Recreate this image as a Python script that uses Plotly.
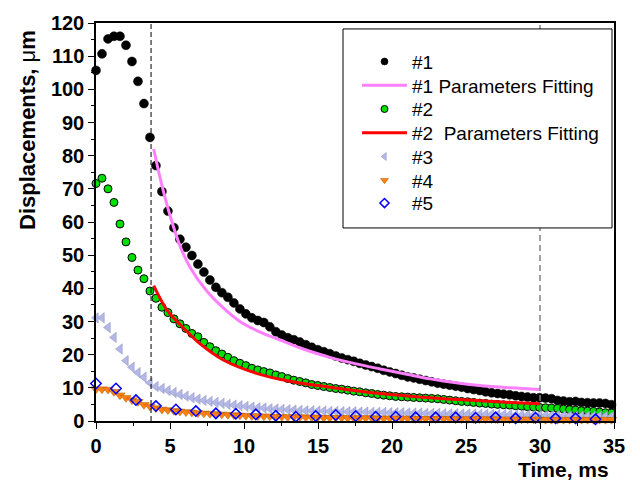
import plotly.graph_objects as go

# ---------------- data ----------------
dt = 0.405
s1_vals = [105.7, 110.7, 115.2, 116.0, 116.0, 113.3, 108.4, 102.4, 95.7, 85.5,
           77.0, 69.2, 63.3, 58.3, 54.8, 52.4, 49.9, 47.3, 44.9, 42.5,
           40.3, 38.7, 37.3, 35.6, 33.8, 32.3, 31.1, 30.3, 29.7, 28.4,
           26.9, 25.9, 25.1, 24.5, 23.8, 23.0, 22.2, 21.5, 20.9, 20.3,
           19.6, 19.0, 18.5, 18.0, 17.4, 16.9, 16.4, 15.9, 15.3, 14.8,
           14.3, 13.8, 13.3, 13.0, 12.6, 12.2, 11.8, 11.4, 11.1, 10.8,
           10.5, 10.2, 9.8, 9.5, 9.2, 8.8, 8.5, 8.3, 8.1, 7.9,
           7.6, 7.4, 7.2, 7.0, 7.0, 6.9, 6.7, 6.2, 6.0, 5.8,
           5.9, 5.6, 5.5, 5.4, 5.4, 5.3, 4.9]
s2_vals = [71.6, 73.2, 70.0, 65.9, 59.4, 54.0, 49.3, 45.5, 42.9, 39.2,
           37.0, 34.3, 32.7, 30.8, 29.3, 27.9, 26.4, 25.4, 23.7, 22.4,
           21.2, 20.2, 19.2, 18.2, 17.4, 16.7, 15.9, 15.4, 14.9, 14.5,
           13.9, 13.4, 12.8, 12.3, 11.9, 11.5, 11.0, 10.7, 10.4, 10.1,
           9.8, 9.6, 9.3, 9.0, 8.8, 8.5, 8.3, 8.0, 7.8, 7.6,
           7.4, 7.3, 7.2, 7.1, 7.0, 6.9, 6.8, 6.7, 6.5, 6.3,
           6.1, 5.9, 5.8, 5.6, 5.4, 5.3, 5.1, 5.0, 4.9, 4.8,
           4.6, 4.5, 4.3, 4.2, 4.1, 4.0, 3.9, 3.8, 3.6, 3.4,
           3.3, 3.1, 3.0, 2.9, 2.7, 2.5, 2.4]
s3_vals = [31.1, 31.1, 28.2, 25.2, 21.7, 18.2, 16.2, 14.6, 13.2, 11.5,
           10.4, 9.8, 9.2, 8.6, 8.0, 7.5, 7.0, 6.6, 6.2, 5.9,
           5.6, 5.3, 5.0, 4.8, 4.6, 4.4, 4.2, 4.0, 3.9, 3.7,
           3.6, 3.5, 3.4, 3.3, 3.2, 3.1, 3.1, 3.0, 3.0, 2.9,
           2.9, 2.8, 2.8, 2.8, 2.7, 2.7, 2.6, 2.6, 2.6, 2.5,
           2.5, 2.5, 2.4, 2.4, 2.4, 2.3, 2.3, 2.3, 2.2, 2.2,
           2.2, 2.1, 2.1, 2.1, 2.0, 2.0, 2.0, 1.9, 1.9, 1.9,
           1.8, 1.8, 1.8, 1.8, 1.7, 1.7, 1.7, 1.7, 1.6, 1.6,
           1.6, 1.6, 1.5, 1.5, 1.5, 1.5, 1.4]
s4_vals = [9.6, 9.6, 9.5, 8.8, 7.8, 7.0, 6.3, 5.8, 4.9, 4.4,
           3.9, 3.5, 3.3, 3.1, 2.9, 2.7, 2.6, 2.4, 2.3, 2.2,
           2.1, 2.0, 1.9, 1.8, 1.7, 1.6, 1.5, 1.5, 1.4, 1.4,
           1.3, 1.3, 1.2, 1.2, 1.2, 1.1, 1.1, 1.1, 1.0, 1.0,
           1.0, 1.0, 0.9, 0.9, 0.9, 0.9, 0.9, 0.8, 0.8, 0.8,
           0.8, 0.8, 0.8, 0.7, 0.7, 0.7, 0.7, 0.7, 0.7, 0.7,
           0.6, 0.6, 0.6, 0.6, 0.6, 0.6, 0.6, 0.5, 0.5, 0.5,
           0.5, 0.5, 0.5, 0.5, 0.5, 0.4, 0.4, 0.4, 0.4, 0.4,
           0.4, 0.4, 0.4, 0.4, 0.4, 0.4, 0.4]
time_ms = [round(dt * i, 3) for i in range(len(s1_vals))]

s5_time = [0.0, 1.35, 2.7, 4.05, 5.4, 6.75, 8.1, 9.45, 10.8, 12.15, 13.5,
           14.85, 16.2, 17.55, 18.9, 20.25, 21.6, 22.95, 24.3, 25.65, 27.0,
           28.35, 29.7, 31.05, 32.4, 33.75, 35.1]
s5_vals = [11.3, 9.8, 6.3, 4.5, 3.5, 3.0, 2.3, 2.2, 2.0, 1.6, 1.3,
           1.5, 1.8, 1.5, 1.3, 1.3, 1.1, 1.1, 1.1, 1.0, 1.1,
           0.8, 1.0, 0.8, 0.8, 0.5, 0.8]

fit1_time = [3.9, 4.4, 5.0, 5.7, 6.4, 7.5, 8.6, 9.7, 10.9, 12.4, 14.0,
             15.8, 17.5, 19.2, 21.0, 22.6, 24.2, 25.9, 28.0, 30.0]
fit1_vals = [82.0, 72.0, 62.0, 52.5, 46.0, 39.1, 34.1, 30.1, 27.2, 24.5, 21.7,
             19.2, 17.3, 15.7, 14.1, 12.7, 11.6, 10.7, 10.0, 9.5]
fit2_time = [3.9, 4.8, 5.7, 7.0, 8.6, 10.9, 13.1, 15.8, 19.2, 22.6, 25.9, 28.0, 30.0]
fit2_vals = [40.8, 33.4, 29.0, 23.4, 18.4, 14.3, 12.0, 10.2, 8.3, 7.0, 6.1, 5.6, 5.2]

cut_times = [3.72, 30.0]

legend_order = ["#1", "#1 Parameters Fitting", "#2", "#2  Parameters Fitting", "#3", "#4", "#5"]

FONT = "Arial, Liberation Sans, sans-serif"

# plot-area geometry in pixels (for placing the legend box etc.)
W, H = 640, 484
L, R, T, B = 96, 26, 19, 63
PW, PH = W - L - R, H - T - B


def px_x(px):
    return (px - L) / PW


def px_y(py):
    return (H - B - py) / PH


styles = {
    "#1": dict(symbol="circle", size=9, color="black", line=dict(color="black", width=0.5)),
    "#2": dict(symbol="circle", size=8, color="#00e000", line=dict(color="black", width=1)),
    "#3": dict(symbol="triangle-left", size=9, color="#b4b8e8", line=dict(color="#8c90b8", width=0.5)),
    "#4": dict(symbol="triangle-down", size=9, color="#ff8010", line=dict(color="#b05a00", width=0.5)),
    "#5": dict(symbol="diamond-open", size=8, color="#0000ff", line=dict(color="#0000ff", width=1.5)),
}
fit_styles = {
    "#1 Parameters Fitting": dict(color="#ff80ff", width=3),
    "#2  Parameters Fitting": dict(color="#ff0000", width=3),
}

fig = go.Figure()

# data traces (legend entries drawn separately with smaller symbols)
fig.add_trace(go.Scatter(x=time_ms, y=s1_vals, mode="markers", marker=styles["#1"],
                         showlegend=False, cliponaxis=False))
fig.add_trace(go.Scatter(x=fit1_time, y=fit1_vals, mode="lines", showlegend=False,
                         line=dict(**fit_styles["#1 Parameters Fitting"], shape="spline")))
fig.add_trace(go.Scatter(x=time_ms, y=s2_vals, mode="markers", marker=styles["#2"],
                         showlegend=False, cliponaxis=False))
fig.add_trace(go.Scatter(x=fit2_time, y=fit2_vals, mode="lines", showlegend=False,
                         line=dict(**fit_styles["#2  Parameters Fitting"], shape="spline")))
fig.add_trace(go.Scatter(x=time_ms, y=s3_vals, mode="markers", marker=styles["#3"],
                         showlegend=False, cliponaxis=False))
fig.add_trace(go.Scatter(x=time_ms, y=s4_vals, mode="markers", marker=styles["#4"],
                         showlegend=False, cliponaxis=False))
fig.add_trace(go.Scatter(x=s5_time, y=s5_vals, mode="markers", marker=styles["#5"],
                         showlegend=False, cliponaxis=False))

fig.add_vline(x=cut_times[0], line=dict(color="black", width=1, dash="5px,3px"))
fig.add_vline(x=cut_times[1], line=dict(color="#808080", width=1.5, dash="6px,4px"))

# legend frame
fig.add_shape(type="rect", xref="paper", yref="paper", layer="above",
              x0=px_x(343), x1=px_x(612), y0=px_y(226), y1=px_y(25),
              line=dict(color="black", width=1), fillcolor="white")

# one legend per row so the row pitch matches the reference
row_centers = [58, 82, 106, 130, 154, 178, 201]
legend_layouts = {}
for k, (name, yc) in enumerate(zip(legend_order, row_centers)):
    lg = "legend" if k == 0 else f"legend{k + 1}"
    if name in styles:
        st = dict(styles[name])
        st["size"] = 7
        fig.add_trace(go.Scatter(x=[None], y=[None], mode="markers", name=name,
                                 marker=st, legend=lg))
    else:
        fig.add_trace(go.Scatter(x=[None], y=[None], mode="lines", name=name,
                                 line=fit_styles[name], legend=lg))
    legend_layouts[lg] = dict(x=px_x(357), y=px_y(yc), xanchor="left", yanchor="middle",
                              bgcolor="rgba(0,0,0,0)", borderwidth=0,
                              font=dict(family=FONT, size=19), itemwidth=45)

fig.update_layout(
    width=W, height=H,
    margin=dict(l=L, r=R, t=T, b=B),
    paper_bgcolor="white", plot_bgcolor="white",
    font=dict(family=FONT, color="black", size=19),
    showlegend=True,
    xaxis=dict(range=[0, 35], showgrid=False, zeroline=False,
               showline=True, linecolor="black", linewidth=1.5, mirror=True,
               ticks="outside", ticklen=6, tickwidth=1, tickcolor="black",
               tickvals=[0, 5, 10, 15, 20, 25, 30, 35],
               tickfont=dict(family=FONT, size=20, weight="bold"),
               minor=dict(ticks="outside", ticklen=3, tickcolor="black", dtick=2.5)),
    yaxis=dict(range=[0, 120], showgrid=False, zeroline=False,
               showline=True, linecolor="black", linewidth=1.5, mirror=True,
               ticks="outside", ticklen=6, tickwidth=1, tickcolor="black",
               dtick=10, tickfont=dict(family=FONT, size=20, weight="bold"),
               minor=dict(ticks="outside", ticklen=3, tickcolor="black", dtick=5)),
    **legend_layouts,
)

fig.add_annotation(text="<b>Displacements, </b>μ<b>m</b>", xref="paper", yref="paper",
                   x=px_x(28), y=px_y(127), xanchor="center", yanchor="middle",
                   textangle=-90, showarrow=False, font=dict(family=FONT, size=22))
fig.add_annotation(text="<b>Time, ms</b>", xref="paper", yref="paper",
                   x=px_x(611), y=px_y(470), xanchor="right", yanchor="middle",
                   showarrow=False, font=dict(family=FONT, size=21))

fig.write_html("out.html", config={"displayModeBar": False},
               post_script="document.body.style.margin='0';")
